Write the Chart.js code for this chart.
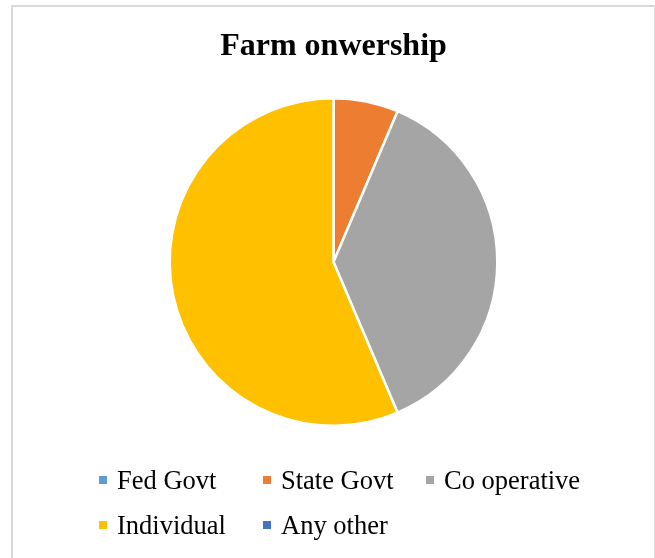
<!DOCTYPE html>
<html>
<head>
<meta charset="utf-8">
<script src="https://cdn.jsdelivr.net/npm/chart.js@4/dist/chart.umd.min.js"></script>
<style>
  html, body { margin: 0; padding: 0; background: #ffffff; }
  #wrap { position: relative; width: 655px; height: 558px; }
</style>
</head>
<body>
<div id="wrap"><canvas id="chart" width="655" height="558"></canvas></div>
<script>
// Farm ownership shares (%)
const categories = ['Fed Govt', 'State Govt', 'Co operative', 'Individual', 'Any other'];
const shares = [0, 6.4, 37.2, 56.4, 0];
const sliceColors = ['#5B9BD5', '#ED7D31', '#A5A5A5', '#FFC000', '#4472C4'];
const chartTitle = 'Farm onwership';

const serif = '"Liberation Serif", "Times New Roman", serif';

// Light frame around the chart
const framePlugin = {
  id: 'frame',
  beforeDraw(chart) {
    const ctx = chart.ctx;
    ctx.save();
    ctx.fillStyle = '#ffffff';
    ctx.fillRect(0, 0, chart.width, chart.height);
    ctx.strokeStyle = '#D9D9D9';
    ctx.lineWidth = 2;
    ctx.beginPath();
    ctx.moveTo(12, chart.height);
    ctx.lineTo(12, 6);
    ctx.lineTo(chart.width, 6);
    ctx.stroke();
    ctx.lineWidth = 1;
    ctx.beginPath();
    ctx.moveTo(654.5, 6);
    ctx.lineTo(654.5, chart.height);
    ctx.stroke();
    ctx.restore();
  }
};

// Legend laid out on a fixed three-column grid below the pie
const gridLegendPlugin = {
  id: 'gridLegend',
  afterDraw(chart) {
    const ctx = chart.ctx;
    const labels = chart.data.labels;
    const colors = chart.data.datasets[0].backgroundColor;
    const colX = [99, 263, 426];
    const rowY = [489, 534];
    const box = 8;
    ctx.save();
    ctx.font = '26.5px ' + serif;
    ctx.textBaseline = 'alphabetic';
    ctx.textAlign = 'left';
    labels.forEach((label, i) => {
      const x = colX[i % 3];
      const y = rowY[Math.floor(i / 3)];
      ctx.fillStyle = colors[i];
      ctx.fillRect(x, y - 13, box, box);
      ctx.fillStyle = '#000000';
      ctx.fillText(label, x + 18, y);
    });
    ctx.restore();
  }
};

new Chart(document.getElementById('chart'), {
  type: 'pie',
  data: {
    labels: categories,
    datasets: [{
      data: shares,
      backgroundColor: sliceColors,
      borderColor: '#ffffff',
      borderWidth: 2.5
    }]
  },
  options: {
    responsive: false,
    animation: false,
    layout: { padding: { top: 0, bottom: 131, left: 12, right: 0 } },
    plugins: {
      legend: { display: false },
      tooltip: { enabled: false },
      title: {
        display: true,
        text: chartTitle,
        color: '#000000',
        font: { family: serif, size: 32, weight: 'bold', lineHeight: 1.2 },
        padding: { top: 28, bottom: 30.5 }
      }
    }
  },
  plugins: [framePlugin, gridLegendPlugin]
});
</script>
</body>
</html>
